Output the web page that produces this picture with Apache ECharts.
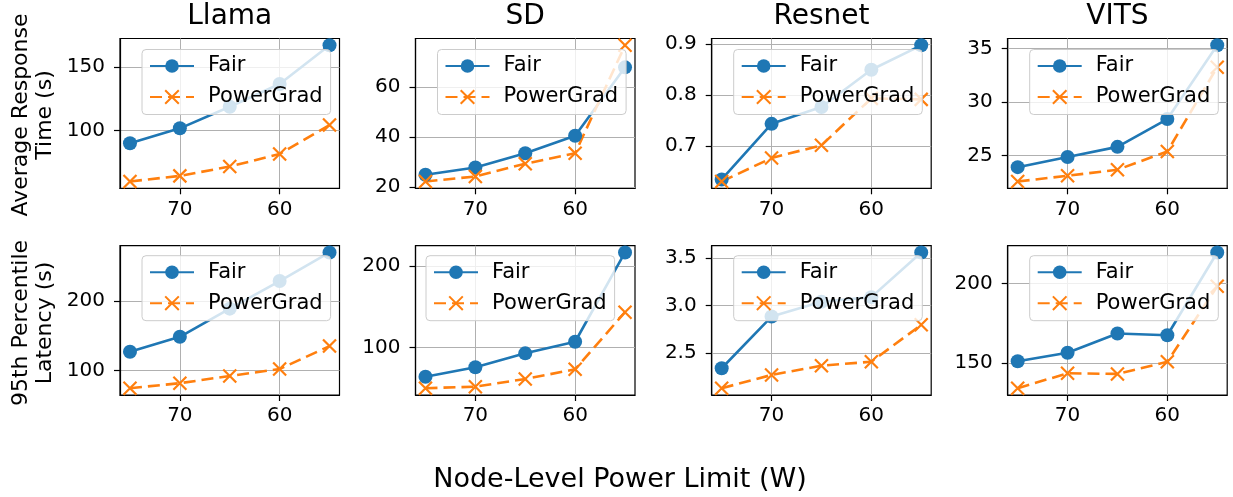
<!DOCTYPE html>
<html>
<head>
<meta charset="utf-8">
<script src="https://cdn.jsdelivr.net/npm/echarts@6/dist/echarts.min.js"></script>
<style>
html, body { margin: 0; padding: 0; background: #fff; }
#chart { width: 1233px; height: 497px; }
</style>
</head>
<body>
<div id="chart"></div>
<script>
// x 轴：节点功率上限 (W)
var powerLimits = [75, 70, 65, 60, 55];
var xTicks = [60, 70];
var modelNames = ['Llama', 'SD', 'Resnet', 'VITS'];
var rowLabels = ['Average Response\nTime (s)', '95th Percentile\nLatency (s)'];
var seriesNames = ['Fair', 'PowerGrad'];

// 平均响应时间 (s)
var llamaAvgFair = [90.2, 101.9, 118.8, 136.7, 167.0];
var llamaAvgPower = [60.2, 64.6, 71.9, 81.8, 104.5];
var sdAvgFair = [24.9, 27.8, 33.5, 40.5, 67.8];
var sdAvgPower = [22.2, 24.2, 29.3, 33.5, 76.6];
var resnetAvgFair = [0.634, 0.743, 0.776, 0.849, 0.897];
var resnetAvgPower = [0.630, 0.676, 0.701, 0.793, 0.791];
var vitsAvgFair = [23.9, 24.85, 25.8, 28.4, 35.3];
var vitsAvgPower = [22.56, 23.1, 23.66, 25.37, 33.25];

// 95 分位延迟 (s)
var llamaP95Fair = [127.1, 148.6, 189.0, 228.6, 269.6];
var llamaP95Power = [74.8, 82.0, 92.4, 102.4, 135.3];
var sdP95Fair = [63.8, 75.4, 92.6, 106.9, 217.0];
var sdP95Power = [49.6, 51.5, 61.0, 72.9, 143.4];
var resnetP95Fair = [2.343, 2.885, 3.04, 3.088, 3.556];
var resnetP95Power = [2.134, 2.273, 2.37, 2.412, 2.798];
var vitsP95Fair = [151.0, 156.3, 168.4, 167.3, 219.4];
var vitsP95Power = [134.0, 143.4, 143.0, 150.6, 198.1];

// y 轴刻度
var llamaAvgTicks = [100, 150];
var sdAvgTicks = [20, 40, 60];
var resnetAvgTicks = [0.7, 0.8, 0.9];
var vitsAvgTicks = [25, 30, 35];
var llamaP95Ticks = [100, 200];
var sdP95Ticks = [100, 200];
var resnetP95Ticks = [2.5, 3.0, 3.5];
var vitsP95Ticks = [150, 200];

var panels = [
    [llamaAvgFair, llamaAvgPower, llamaAvgTicks, 0],
    [sdAvgFair, sdAvgPower, sdAvgTicks, 0],
    [resnetAvgFair, resnetAvgPower, resnetAvgTicks, 1],
    [vitsAvgFair, vitsAvgPower, vitsAvgTicks, 0],
    [llamaP95Fair, llamaP95Power, llamaP95Ticks, 0],
    [sdP95Fair, sdP95Power, sdP95Ticks, 0],
    [resnetP95Fair, resnetP95Power, resnetP95Ticks, 1],
    [vitsP95Fair, vitsP95Power, vitsP95Ticks, 0]
];

var FONT = 'DejaVu Sans';
var gridLefts = [120, 415.5, 711.7, 1007.7];
var gridTops = [38.5, 245.7];
var gridHeights = [149.8, 149.3];
var gridWidth = 219.5;

var grids = [], xAxes = [], yAxes = [], series = [], legends = [], graphics = [];

panels.forEach(function (p, i) {
    var row = Math.floor(i / 4), col = i % 4;
    var fair = p[0], power = p[1], ticks = p[2], digits = p[3];
    var all = fair.concat(power);
    var lo = Math.min.apply(null, all), hi = Math.max.apply(null, all);
    var pad = (hi - lo) * 0.05;

    grids.push({
        left: gridLefts[col], top: gridTops[row],
        width: gridWidth, height: gridHeights[row],
        show: true, borderColor: '#000', borderWidth: 1.2,
        containLabel: false, outerBoundsMode: 'none'
    });

    xAxes.push({
        type: 'value', gridIndex: i,
        min: 54, max: 76, inverse: true,
        axisLine: {show: true, onZero: false, lineStyle: {color: '#000', width: 1.2}},
        axisTick: {show: true, customValues: xTicks, length: 6, lineStyle: {color: '#000', width: 1.2}},
        axisLabel: {customValues: xTicks, color: '#000', fontSize: 20, fontFamily: FONT, margin: 11},
        splitLine: {show: true, lineStyle: {color: '#b0b0b0', width: 1}}
    });

    yAxes.push({
        type: 'value', gridIndex: i,
        min: lo - pad, max: hi + pad,
        axisLine: {show: true, onZero: false, lineStyle: {color: '#000', width: 1.2}},
        axisTick: {show: true, customValues: ticks, length: 6, lineStyle: {color: '#000', width: 1.2}},
        axisLabel: {
            customValues: ticks, color: '#000', fontSize: 20, fontFamily: FONT, margin: 15,
            formatter: function (v) { return digits ? v.toFixed(1) : String(v); }
        },
        splitLine: {show: true, lineStyle: {color: '#b0b0b0', width: 1}}
    });

    series.push({
        name: 'Fair', type: 'line', xAxisIndex: i, yAxisIndex: i,
        data: powerLimits.map(function (x, k) { return [x, fair[k]]; }),
        symbol: 'circle', symbolSize: 14,
        lineStyle: {color: '#1f77b4', width: 2.6},
        itemStyle: {color: '#1f77b4'},
        emphasis: {disabled: true}, z: 3
    });
    series.push({
        name: 'PowerGrad', type: 'line', xAxisIndex: i, yAxisIndex: i,
        data: powerLimits.map(function (x, k) { return [x, power[k]]; }),
        symbol: 'path://M0,0L10,10M10,0L0,10', symbolSize: 13,
        lineStyle: {color: '#ff7f0e', width: 2.6, type: [12, 6]},
        itemStyle: {color: '#ff7f0e', borderColor: '#ff7f0e', borderWidth: 2.2},
        emphasis: {disabled: true}, z: 3
    });

    //SD 第二行图例在左上角，其余都在右上角
    var legendLeft = (i === 5) ? gridLefts[col] + 10.5 : gridLefts[col] + 22;
    legends.push({
        data: seriesNames, orient: 'vertical',
        left: legendLeft, top: gridTops[row] + (row === 0 ? 11 : 10),
        itemWidth: 44, itemHeight: 17, itemGap: 10,
        padding: [6, 8, 7, 7],
        backgroundColor: 'rgba(255,255,255,0.8)',
        borderColor: '#cccccc', borderWidth: 1, borderRadius: 4,
        selectedMode: false,
        textStyle: {fontSize: 21, fontFamily: FONT, color: '#000', padding: [0, 0, 0, 9]},
        z: 10
    });
});

// 子图标题
modelNames.forEach(function (name, col) {
    graphics.push({
        type: 'text', x: gridLefts[col] + gridWidth / 2, y: 17,
        style: {text: name, font: '28px "DejaVu Sans"', fill: '#000', textAlign: 'center', textVerticalAlign: 'middle'}
    });
});

// 行标签
rowLabels.forEach(function (txt, row) {
    graphics.push({
        type: 'text', x: 33, y: row === 0 ? 115 : 323, rotation: Math.PI / 2,
        style: {text: txt, font: '22px "DejaVu Sans"', fill: '#000', textAlign: 'center', textVerticalAlign: 'middle', lineHeight: 24}
    });
});

// x 轴标题
graphics.push({
    type: 'text', x: 620, y: 480,
    style: {text: 'Node-Level Power Limit (W)', font: '27px "DejaVu Sans"', fill: '#000', textAlign: 'center', textVerticalAlign: 'middle'}
});

var chart = echarts.init(document.getElementById('chart'), null, {renderer: 'canvas'});
chart.setOption({
    animation: false,
    backgroundColor: '#fff',
    grid: grids,
    xAxis: xAxes,
    yAxis: yAxes,
    series: series,
    legend: legends,
    graphic: graphics
});
</script>
</body>
</html>
